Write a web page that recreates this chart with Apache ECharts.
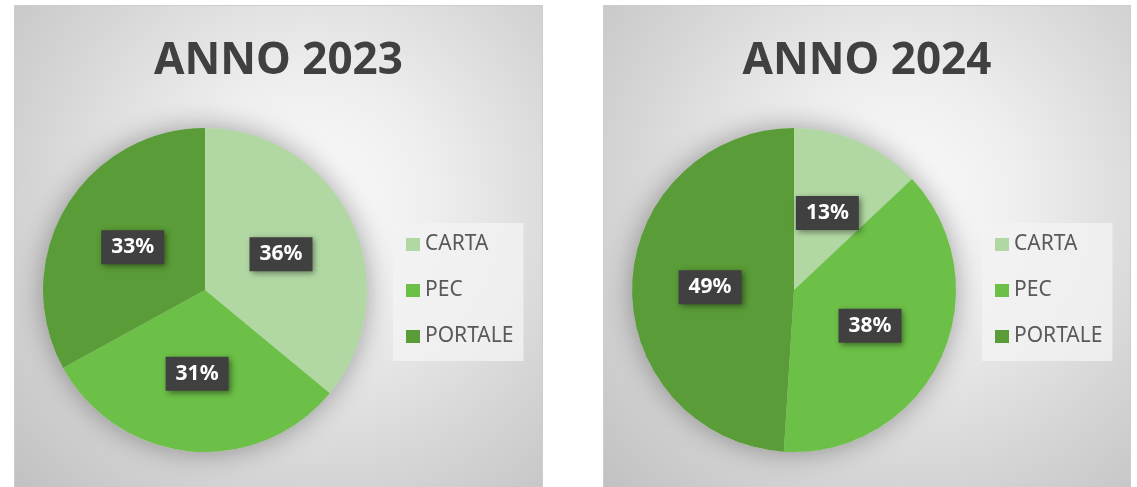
<!DOCTYPE html>
<html>
<head>
<meta charset="utf-8">
<script src="https://cdn.jsdelivr.net/npm/echarts@6/dist/echarts.min.js"></script>
<style>
	html, body { margin: 0; padding: 0; background: #fff; overflow: hidden; }
	body { width: 1137px; height: 487px; position: relative; }
	.panel {
		position: absolute;
		top: 5px;
		height: 492px;
		box-sizing: border-box;
		border: 1px solid #cdcdcd;
		background: radial-gradient(circle farthest-corner at 56% 40%, #fbfbfb 0%, #eeeeee 30%, #d6d6d6 65%, #c0c0c0 100%);
	}
	#p2023 { left: 14px; width: 529px; }
	#p2024 { left: 603px; width: 528px; }
</style>
</head>
<body>
<div class="panel" id="p2023"></div>
<div class="panel" id="p2024"></div>
<script>
'use strict';

let categories = ['CARTA', 'PEC', 'PORTALE'];
let colors = ['#b1d8a3', '#6cbf47', '#5a9c37'];

let values2023 = [36, 31, 33];
let values2024 = [13, 38, 49];

let charts = [
	{ id: 'p2023', title: 'ANNO 2023', values: values2023 },
	{ id: 'p2024', title: 'ANNO 2024', values: values2024 }
];

for (let c of charts) {
	let myChart = echarts.init(document.getElementById(c.id));
	let total = c.values.reduce((a, b) => a + b, 0);

	let data = [];
	for (let i = 0; i < categories.length; i++) {
		data.push({
			name: categories[i],
			value: c.values[i],
			itemStyle: { color: colors[i] }
		});
	}

	let option = {
		backgroundColor: 'transparent',
		animation: false,
		title: {
			text: c.title,
			left: 'center',
			top: 28,
			textStyle: {
				fontFamily: 'Noto Sans',
				fontWeight: 'bold',
				fontSize: 44,
				color: '#404040'
			}
		},
		legend: {
			orient: 'vertical',
			left: 378,
			top: 217,
			data: categories,
			icon: 'rect',
			itemWidth: 14,
			itemHeight: 13,
			itemGap: 25,
			padding: [11, 10, 14, 13],
			backgroundColor: 'rgba(243,243,243,0.8)',
			textStyle: {
				fontFamily: 'Noto Sans',
				fontSize: 21,
				lineHeight: 20,
				color: '#595959'
			}
		},
		series: [{
			// soft shadow under the pie
			type: 'pie',
			silent: true,
			center: [190, 284],
			radius: 162,
			label: { show: false },
			labelLine: { show: false },
			data: [{
				name: 'shadow',
				value: total,
				itemStyle: {
					color: '#d8d8d8',
					shadowBlur: 28,
					shadowColor: 'rgba(0,0,0,0.35)'
				}
			}],
			z: 1
		}, {
			type: 'pie',
			center: [190, 284],
			radius: 162,
			startAngle: 90,
			clockwise: true,
			z: 2,
			itemStyle: { borderWidth: 0 },
			label: {
				show: true,
				position: 'inside',
				formatter: '{c}%',
				fontFamily: 'Noto Sans',
				fontWeight: 'bold',
				fontSize: 21,
				lineHeight: 20,
				color: '#ffffff',
				backgroundColor: '#404040',
				padding: [7, 10],
				shadowColor: 'rgba(0,0,0,0.45)',
				shadowBlur: 6,
				shadowOffsetX: 2,
				shadowOffsetY: 2
			},
			labelLine: { show: false },
			emphasis: { disabled: true },
			data: data
		}]
	};
	myChart.setOption(option);
}
</script>
</body>
</html>
